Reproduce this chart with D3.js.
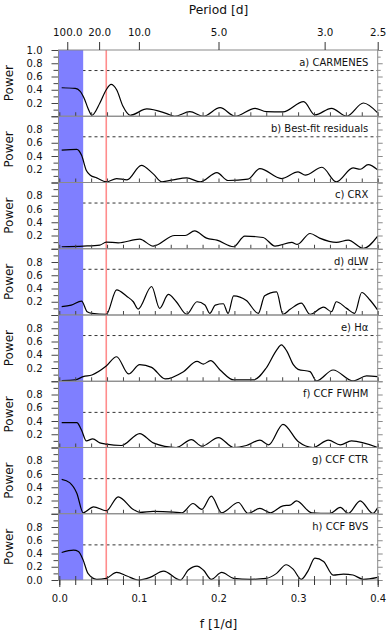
<!DOCTYPE html>
<html><head><meta charset="utf-8">
<script src="https://cdn.jsdelivr.net/npm/d3@7"></script>
<style>body{margin:0;background:#fff} svg{display:block} text{font-family:"DejaVu Sans",sans-serif}</style>
</head><body><svg id="c" width="390" height="631"></svg>
<script>
const panelLabels = ["a) CARMENES","b) Best-fit residuals","c) CRX","d) dLW","e) H\u03b1","f) CCF FWHM","g) CCF CTR","h) CCF BVS"];
const fapLevels = [0.69,0.69,0.69,0.69,0.69,0.53,0.53,0.53];
const periodTicks = [100,20,10,5,3,2.5];
const periodLabels = ["100.0","20.0","10.0","5.0","3.0","2.5"];
const freqTicks = [0,0.1,0.2,0.3,0.4];
const powerTicks = [0,0.2,0.4,0.6,0.8,1.0];
const powerMinor = [0.1,0.3,0.5,0.7,0.9];
const spanF = [0,0.03];
const markerF = 0.059;

const fA=[0.003,0.020,0.026,0.032,0.036,0.041,0.051,0.059,0.065,0.072,0.080,0.089,0.110,0.135,0.145,0.164,0.181,0.202,0.221,0.246,0.260,0.281,0.307,0.321,0.342,0.361,0.382,0.400];
const pA=[0.43,0.42,0.38,0.25,0.12,0.015,0.20,0.40,0.48,0.40,0.15,0.015,0.11,0.04,0.0,0.07,0.0,0.13,0.0,0.12,0.07,0.065,0.22,0.02,0.12,0.0,0.20,0.05];

const fB=[0.003,0.022,0.028,0.034,0.039,0.047,0.059,0.072,0.085,0.103,0.118,0.129,0.143,0.160,0.177,0.198,0.212,0.237,0.252,0.279,0.300,0.309,0.330,0.348,0.369,0.378,0.388,0.400];
const pB=[0.49,0.50,0.41,0.18,0.11,0.07,0.01,0.06,0.04,0.26,0.13,0.01,0.04,0.07,0.01,0.15,0.03,0.05,0.21,0.06,0.16,0.11,0.23,0.01,0.22,0.20,0.27,0.19];

const fC=[0.003,0.030,0.051,0.059,0.074,0.101,0.118,0.145,0.158,0.170,0.185,0.198,0.219,0.233,0.256,0.271,0.292,0.299,0.315,0.327,0.348,0.363,0.382,0.400];
const pC=[0.03,0.04,0.055,0.10,0.09,0.145,0.04,0.20,0.20,0.27,0.16,0.13,0.03,0.19,0.17,0.04,0.095,0.065,0.23,0.16,0.095,0.13,0.005,0.19];

const fD=[0.003,0.015,0.028,0.035,0.041,0.059,0.072,0.085,0.093,0.099,0.116,0.126,0.137,0.147,0.160,0.173,0.183,0.189,0.196,0.206,0.212,0.219,0.235,0.250,0.258,0.273,0.281,0.290,0.304,0.315,0.332,0.342,0.348,0.361,0.371,0.380,0.390,0.400];
const pD=[0.125,0.15,0.21,0.05,0.025,0.01,0.38,0.28,0.20,0.09,0.43,0.10,0.31,0.20,0.01,0.20,0.15,0.025,0.15,0.17,0.025,0.29,0.22,0.025,0.29,0.35,0.01,0.085,0.18,0.01,0.12,0.05,0.20,0.10,0.025,0.34,0.23,0.075];

const fE=[0.003,0.020,0.030,0.041,0.059,0.072,0.087,0.101,0.116,0.133,0.156,0.173,0.181,0.190,0.202,0.219,0.244,0.260,0.273,0.279,0.286,0.294,0.300,0.315,0.323,0.344,0.369,0.386,0.400];
const pE=[0.01,0.02,0.07,0.095,0.23,0.37,0.11,0.25,0.21,0.035,0.145,0.30,0.26,0.31,0.17,0.02,0.02,0.20,0.47,0.55,0.45,0.25,0.18,0.145,0.005,0.17,0.005,0.08,0.07];

const fF=[0.003,0.022,0.028,0.034,0.042,0.051,0.059,0.078,0.101,0.118,0.147,0.166,0.179,0.200,0.219,0.235,0.252,0.263,0.281,0.300,0.319,0.338,0.353,0.367,0.400];
const pF=[0.375,0.375,0.26,0.10,0.13,0.07,0.05,0.03,0.21,0.07,0.0,0.12,0.02,0.15,0.0,0.03,0.11,0.04,0.35,0.09,0.0,0.11,0.04,0.10,0.0];

const fG=[0.003,0.013,0.022,0.030,0.043,0.059,0.074,0.093,0.101,0.118,0.143,0.154,0.168,0.179,0.191,0.204,0.225,0.237,0.252,0.265,0.281,0.290,0.298,0.317,0.340,0.353,0.363,0.378,0.394,0.400];
const pG=[0.52,0.47,0.31,0.015,0.105,0.045,0.255,0.065,0.02,0.035,0.025,0.015,0.155,0.065,0.265,0.015,0.17,0.005,0.08,0.015,0.12,0.13,0.195,0.015,0.005,0.095,0.005,0.195,0.005,0.095];

const fH=[0.003,0.018,0.024,0.030,0.036,0.047,0.059,0.072,0.085,0.099,0.114,0.131,0.152,0.162,0.173,0.181,0.191,0.204,0.219,0.240,0.260,0.273,0.285,0.294,0.304,0.313,0.321,0.332,0.344,0.357,0.369,0.382,0.400];
const pH=[0.415,0.45,0.43,0.30,0.10,0.01,0.025,0.115,0.06,0.0,0.04,0.135,0.0,0.15,0.21,0.15,0.01,0.115,0.025,0.01,0.025,0.10,0.23,0.16,0.01,0.15,0.33,0.28,0.075,0.09,0.075,0.01,0.04];

const seriesF=[fA,fB,fC,fD,fE,fF,fG,fH];
const seriesP=[pA,pB,pC,pD,pE,pF,pG,pH];

const svg=d3.select("#c");
const left=58.5, right=377.7, top0=50, ph=66.25, n=8;
const x=d3.scaleLinear().domain([0,0.4]).range([59.3,377.7]);
const spineColor="#8a8a8a";
const tickColor="#444";
const fs=10;

for(let i=0;i<n;i++){
  const t=top0+i*ph;
  const y=d3.scaleLinear().domain([0,1]).range([t+ph,t]);
  const g=svg.append("g");
  g.append("line").attr("x1",left).attr("x2",right).attr("y1",y(fapLevels[i])).attr("y2",y(fapLevels[i]))
   .attr("stroke","#333").attr("stroke-width",1).attr("stroke-dasharray","3,3");
  g.append("rect").attr("x",left).attr("width",x(spanF[1])-left).attr("y",t).attr("height",ph).attr("fill","#7f7fff");
  g.append("line").attr("x1",x(markerF)).attr("x2",x(markerF)).attr("y1",t).attr("y2",t+ph).attr("stroke","#ff8c8c").attr("stroke-width",1.6);
  const pts=seriesF[i].map((f,k)=>[f,seriesP[i][k]]);
  g.append("path").datum(pts).attr("fill","none").attr("stroke","#000").attr("stroke-width",1.2)
   .attr("d",d3.line().x(d=>x(d[0])).y(d=>y(Math.max(0,d[1]))).curve(d3.curveMonotoneX));
  g.append("text").attr("x",368.3).attr("y",t+15.8).attr("text-anchor","end").attr("font-size",fs).attr("fill","#111").text(panelLabels[i]);
  const labelVals = i===0 ? [0.2,0.4,0.6,0.8,1.0] : (i===n-1 ? [0,0.2,0.4,0.6,0.8] : [0.2,0.4,0.6,0.8]);
  const la=g.append("g").attr("transform",`translate(${left},0)`)
    .call(d3.axisLeft(y).tickValues(powerTicks).tickSize(7).tickPadding(9)
      .tickFormat(v=>labelVals.some(l=>Math.abs(l-v)<1e-9)?d3.format(".1f")(v):""));
  la.select(".domain").remove();
  la.selectAll("line").attr("stroke",tickColor);
  la.selectAll("text").attr("font-size",fs).attr("fill","#111").attr("font-family","DejaVu Sans");
  const lm=g.append("g").attr("transform",`translate(${left},0)`)
    .call(d3.axisLeft(y).tickValues(powerMinor).tickSize(5).tickFormat(""));
  lm.select(".domain").remove(); lm.selectAll("line").attr("stroke",tickColor);
  const ra=g.append("g").attr("transform",`translate(${right},0)`)
    .call(d3.axisRight(y).tickValues(powerTicks).tickSize(5).tickFormat(""));
  ra.select(".domain").remove(); ra.selectAll("line").attr("stroke",spineColor);
  const rm=g.append("g").attr("transform",`translate(${right},0)`)
    .call(d3.axisRight(y).tickValues(powerMinor).tickSize(3).tickFormat(""));
  rm.select(".domain").remove(); rm.selectAll("line").attr("stroke",spineColor);
  g.append("rect").attr("x",left).attr("y",t).attr("width",right-left).attr("height",ph)
   .attr("fill","none").attr("stroke",spineColor).attr("stroke-width",1);
  const ba=g.append("g").attr("transform",`translate(0,${t+ph})`)
    .call(d3.axisTop(x).ticks(20).tickSize(4).tickFormat(""));
  ba.select(".domain").remove(); ba.selectAll("line").attr("stroke",tickColor);
  if(i===n-1){
    const bb=g.append("g").attr("transform",`translate(0,${t+ph})`)
      .call(d3.axisBottom(x).ticks(20).tickSize(5).tickFormat(""));
    bb.select(".domain").remove(); bb.selectAll("line").attr("stroke","#333");
    const bl=g.append("g").attr("transform",`translate(0,${t+ph})`)
      .call(d3.axisBottom(x).tickValues(freqTicks).tickSize(7).tickPadding(8).tickFormat(d3.format(".1f")));
    bl.select(".domain").remove(); bl.selectAll("line").attr("stroke","#333");
    bl.selectAll("text").attr("font-size",fs).attr("fill","#111").attr("font-family","DejaVu Sans");
  }
  svg.append("text").attr("transform",`translate(12.5,${t+ph/2}) rotate(-90)`).attr("text-anchor","middle")
    .attr("font-size",12).attr("fill","#111").text("Power");
}
const ta=svg.append("g").attr("transform",`translate(0,${top0})`)
  .call(d3.axisTop(x).tickValues(periodTicks.map(p=>1/p)).tickSize(8).tickPadding(6)
    .tickFormat((v,k)=>periodLabels[k]));
ta.select(".domain").remove(); ta.selectAll("line").attr("stroke","#333");
ta.selectAll("text").attr("font-size",10.3).attr("fill","#111").attr("font-family","DejaVu Sans");
svg.append("text").attr("x",(59.3+377.7)/2).attr("y",14).attr("text-anchor","middle").attr("font-size",12.3).attr("fill","#111").text("Period [d]");
svg.append("text").attr("x",(59.3+377.7)/2).attr("y",628).attr("text-anchor","middle").attr("font-size",12.3).attr("fill","#111").text("f [1/d]");
</script></body></html>
